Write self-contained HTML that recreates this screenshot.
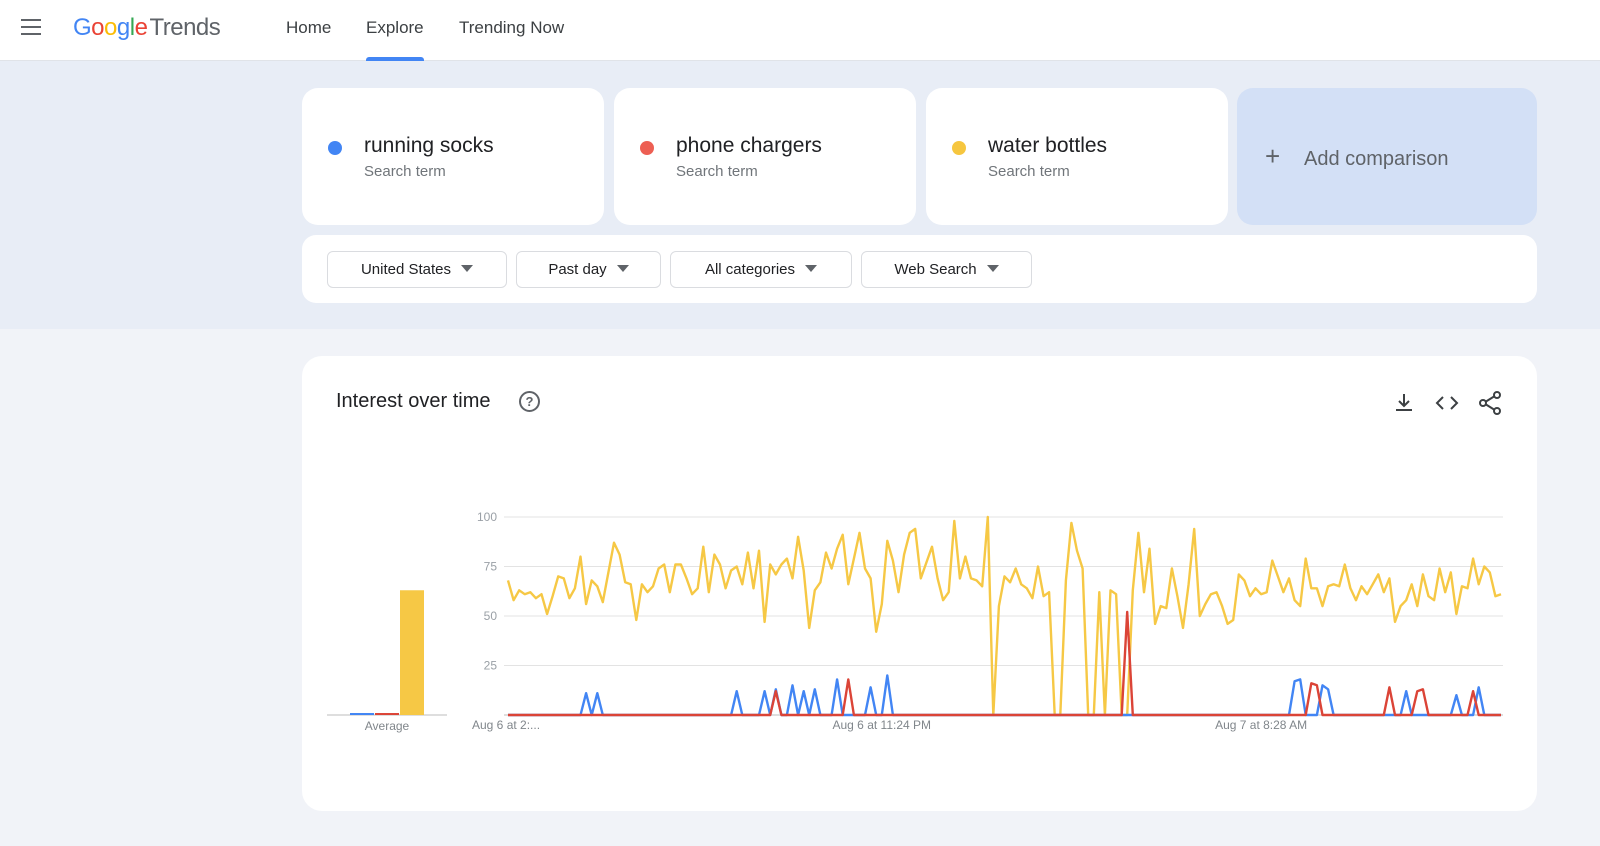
<!DOCTYPE html>
<html><head><meta charset="utf-8">
<style>
*{box-sizing:border-box;margin:0;padding:0}
body{width:1600px;height:846px;overflow:hidden;font-family:"Liberation Sans",sans-serif;background:#f1f3f8;position:relative;color:#202124}
.hdr{position:absolute;left:0;top:0;width:1600px;height:61px;background:#fff;border-bottom:1px solid #e0e3e8}
.band{position:absolute;left:0;top:61px;width:1600px;height:268px;background:#e8edf6}
.abs{position:absolute}
.card{position:absolute;background:#fff;border-radius:16px}
.term{top:88px;width:302px;height:137px}
.dot{position:absolute;left:26px;top:53px;width:14px;height:14px;border-radius:50%}
.tname{position:absolute;left:62px;top:46px;font-size:21px;color:#202124}
.tsub{position:absolute;left:62px;top:75px;font-size:15px;color:#70757a}
.fbtn{position:absolute;top:251px;height:37px;border:1px solid #dadce0;border-radius:6px;font-size:15px;color:#202124;line-height:35px;text-align:center}
.fbtn span.tri{display:inline-block;margin-left:10px;width:0;height:0;border-left:6px solid transparent;border-right:6px solid transparent;border-top:7px solid #5f6368;vertical-align:2px}
.nav{position:absolute;top:18px;font-size:17px;color:#3c4043}
</style></head><body>
<div class="hdr">
  <div class="abs" style="left:21px;top:19px;width:20px;height:16px">
    <div style="height:2px;background:#5f6368;margin-bottom:5px"></div><div style="height:2px;background:#5f6368;margin-bottom:5px"></div><div style="height:2px;background:#5f6368"></div>
  </div>
  <div class="abs" style="left:73px;top:14px;font-size:24px;letter-spacing:-0.5px"><span style="color:#4285f4">G</span><span style="color:#ea4335">o</span><span style="color:#fbbc05">o</span><span style="color:#4285f4">g</span><span style="color:#34a853">l</span><span style="color:#ea4335">e</span><span style="color:#5f6368;margin-left:2px">Trends</span></div>
  <div class="nav" style="left:286px">Home</div>
  <div class="nav" style="left:366px">Explore</div>
  <div class="abs" style="left:366px;top:57px;width:58px;height:4px;background:#4285f4;border-radius:3px 3px 0 0"></div>
  <div class="nav" style="left:459px">Trending Now</div>
</div>
<div class="band"></div>

<div class="card term" style="left:302px"><div class="dot" style="background:#4285f4"></div><div class="tname">running socks</div><div class="tsub">Search term</div></div>
<div class="card term" style="left:614px"><div class="dot" style="background:#ea4335;opacity:.85"></div><div class="tname">phone chargers</div><div class="tsub">Search term</div></div>
<div class="card term" style="left:926px"><div class="dot" style="background:#f6c63f"></div><div class="tname">water bottles</div><div class="tsub">Search term</div></div>
<div class="card" style="left:1237px;top:88px;width:300px;height:137px;background:#d3e0f6">
  <div class="abs" style="left:28px;top:55px;font-size:26px;color:#5f6368;line-height:26px">+</div>
  <div class="abs" style="left:67px;top:60px;font-size:20px;color:#5f6368">Add comparison</div>
</div>

<div class="card" style="left:302px;top:235px;width:1235px;height:68px;border-radius:14px"></div>
<div class="fbtn" style="left:327px;width:180px">United States<span class="tri"></span></div>
<div class="fbtn" style="left:516px;width:145px">Past day<span class="tri"></span></div>
<div class="fbtn" style="left:670px;width:182px">All categories<span class="tri"></span></div>
<div class="fbtn" style="left:861px;width:171px">Web Search<span class="tri"></span></div>

<div class="card" style="left:302px;top:356px;width:1235px;height:455px;border-radius:20px">
  <div class="abs" style="left:34px;top:34px;font-size:20px;color:#202124">Interest over time</div>
  <div class="abs" style="left:217px;top:35px;width:21px;height:21px;border:2px solid #5f6368;border-radius:50%;font-size:13px;text-align:center;line-height:17px;color:#5f6368;font-weight:bold">?</div>
  <svg class="abs" style="left:1090px;top:34px" width="110" height="26">
    <g stroke="#3c4043" stroke-width="2" fill="none"><path d="M12 4v12M7 11l5 5 5-5M4 20h16"/></g>
    <g stroke="#3c4043" stroke-width="2" fill="none"><path d="M51 7l-6 6 6 6M59 7l6 6-6 6"/></g>
    <g stroke="#3c4043" stroke-width="2" fill="none"><circle cx="105" cy="5" r="3"/><circle cx="91" cy="13" r="3"/><circle cx="105" cy="21" r="3"/><path d="M94 11.5l8-5M94 14.5l8 5"/></g>
  </svg>
</div>

<svg id="chart" class="abs" style="left:0;top:0" width="1600" height="846"></svg>

<script>
const tickLabels=[0,25,50,75,100];
const xLabels=["Aug 6 at 2:...","Aug 6 at 11:24 PM","Aug 7 at 8:28 AM"];
const xLabelIdx=[0,67,135];
const waterBottles=[68,58,63,61,62,59,61,51,60,70,69,59,64,80,56,68,65,57,72,87,81,67,66,48,66,62,65,74,76,62,76,76,69,61,64,85,62,81,76,64,73,75,66,82,64,83,47,76,71,76,79,69,90,73,44,63,67,82,
74,84,91,66,79,92,74,69,42,56,88,78,62,81,92,94,69,77,85,69,58,62,98,69,80,69,68,65,100,0,55,70,67,74,66,64,59,75,60,62,0,0,68,97,83,74,0,0,62,0,63,61,0,0,63,92,62,84,
46,55,54,74,60,44,66,94,50,56,61,62,55,46,48,71,68,60,64,61,62,78,70,62,69,58,55,79,64,64,55,65,66,65,76,64,58,65,61,66,71,62,69,47,55,58,66,55,71,60,58,74,62,72,51,65,64,79,66,75,72,60,61];
const socksIdx=[14,16,41,46,48,51,53,55,59,65,68,141,142,146,147,161,170,174];
const socksVal=[11,11,12,12,13,15,12,13,18,14,20,17,18,15,13,12,10,14];
const chargersIdx=[48,61,111,144,145,158,163,164,173];
const chargersVal=[12,18,52,16,15,14,12,13,12];
const averages=[1,1,63];
const avgColors=["#4285f4","#db4437","#f6c845"];

const svg=document.getElementById('chart');
const NS='http://www.w3.org/2000/svg';
const X0=508,X1=1501,Y0=715,Y100=517;
const n=waterBottles.length;
const xs=i=>X0+(X1-X0)*i/(n-1);
const ys=v=>Y0-(Y0-Y100)*v/100;
function mk(t,a){const e=document.createElementNS(NS,t);for(const k in a)e.setAttribute(k,a[k]);svg.appendChild(e);return e;}
tickLabels.forEach(t=>{
  const l=mk('line',{x1:X0-4,x2:X1+2,y1:ys(t),y2:ys(t),stroke:t===0?'#bdbdbd':'#e3e3e3','stroke-width':1});
  
  
  if(t>0){const tx=mk('text',{x:497,y:ys(t)+4,'text-anchor':'end','font-size':12,fill:'#9aa0a6','font-family':'Liberation Sans, sans-serif'});tx.textContent=t;
  
  }
});
xLabels.forEach((s,k)=>{
  const tx=mk('text',{x:k===0?472:xs(xLabelIdx[k]),y:729,'text-anchor':k===0?'start':'middle','font-size':12,fill:'#80868b','font-family':'Liberation Sans, sans-serif'});tx.textContent=s;
  
  
});
// average bars
const al=mk('line',{x1:327,x2:447,y1:Y0,y2:Y0,stroke:'#bdbdbd'});


averages.forEach((v,k)=>{
  const r=mk('rect',{x:350+k*25,y:ys(v),width:24,height:Y0-ys(v),fill:avgColors[k]});
  
  
});
const at=mk('text',{x:387,y:730,'text-anchor':'middle','font-size':12,fill:'#80868b','font-family':'Liberation Sans, sans-serif'});at.textContent='Average';


function series(idx,val){const a=new Array(n).fill(0);idx.forEach((i,k)=>a[i]=val[k]);return a;}
function line(arr,color,name){
  const p=mk('polyline',{points:arr.map((v,i)=>xs(i).toFixed(1)+','+ys(v).toFixed(1)).join(' '),fill:'none',stroke:color,'stroke-width':2.4,'stroke-linejoin':'round'});
  
  
}
line(waterBottles,'#f6c845','line-water-bottles');
line(series(socksIdx,socksVal),'#4285f4','line-running-socks');
line(series(chargersIdx,chargersVal),'#db4437','line-phone-chargers');
</script>
</body></html>
